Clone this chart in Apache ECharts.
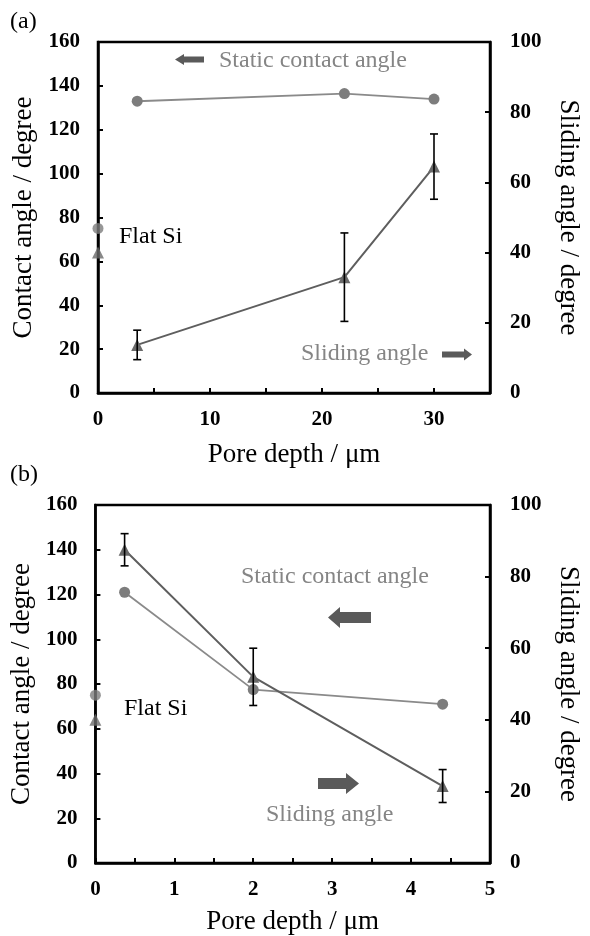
<!DOCTYPE html>
<html>
<head>
<meta charset="utf-8">
<script src="https://cdn.jsdelivr.net/npm/echarts@6/dist/echarts.min.js"></script>
<style>
  html, body { margin: 0; padding: 0; background: #fff; }
  #chart { width: 590px; height: 936px; }
</style>
</head>
<body>
<div id="chart"></div>
<script>
// Panel (a): deep pores, depth 0-35 µm
const depthA = [3.5, 22, 30];
const contactA = [133, 136.5, 134];
const slidingA = [13.7, 33, 64.5];
const slidingErrA = [4.2, 12.6, 9.3];

// Panel (b): shallow pores, depth 0-5 µm
const depthB = [0.37, 2.0, 4.4];
const contactB = [121, 77.5, 71];
const slidingB = [87.5, 52, 21.5];
const slidingErrB = [4.5, 8, 4.6];

// Flat Si reference (depth 0)
const flatDepth = 0;
const flatContact = 75;
const flatSliding = 40;

const xTicksA = [0, 10, 20, 30];
const xTicksB = [0, 1, 2, 3, 4, 5];

const SERIF = '"Liberation Serif", "Times New Roman", serif';
const CIRCLE_GRAY = '#7d7d7d';
const TRI_GRAY = '#6a6a6a';

const pairs = (xs, ys) => xs.map((x, i) => [x, ys[i]]);
const triples = (xs, ys, es) => xs.map((x, i) => [x, ys[i], es[i]]);

function errorBar(params, api) {
  const x = api.value(0), y = api.value(1), e = api.value(2);
  const top = api.coord([x, y + e]);
  const bot = api.coord([x, y - e]);
  const w = 4;
  const st = { stroke: '#000', lineWidth: 1.6 };
  return {
    type: 'group',
    children: [
      { type: 'line', shape: { x1: top[0], y1: top[1], x2: bot[0], y2: bot[1] }, style: st },
      { type: 'line', shape: { x1: top[0] - w, y1: top[1], x2: top[0] + w, y2: top[1] }, style: st },
      { type: 'line', shape: { x1: bot[0] - w, y1: bot[1], x2: bot[0] + w, y2: bot[1] }, style: st }
    ]
  };
}

const tickLabel = { fontFamily: SERIF, fontWeight: 'bold', fontSize: 21, color: '#000' };
const axisName = { fontFamily: SERIF, fontSize: 27, color: '#000' };
const axisLine = { show: true, lineStyle: { color: '#000', width: 2.5 } };
const axisTick = { show: true, inside: true, length: 5, lineStyle: { color: '#000', width: 2 } };

function xAxis(grid, max, interval, ticks, gap) {
  return {
    type: 'value', gridIndex: grid, min: 0, max: max, interval: interval,
    name: 'Pore depth / μm', nameLocation: 'middle', nameGap: gap, nameTextStyle: axisName,
    axisLine: axisLine, axisTick: axisTick, splitLine: { show: false },
    axisLabel: Object.assign({ margin: 16, formatter: v => (ticks.indexOf(v) >= 0 ? String(v) : '') }, tickLabel)
  };
}
function yLeft(grid) {
  return {
    type: 'value', gridIndex: grid, position: 'left', min: 0, max: 160, interval: 20,
    name: 'Contact angle / degree', nameLocation: 'middle', nameGap: 60, nameTextStyle: axisName,
    axisLine: axisLine, axisTick: axisTick, splitLine: { show: false },
    axisLabel: Object.assign({ margin: 18 }, tickLabel)
  };
}
function yRight(grid) {
  return {
    type: 'value', gridIndex: grid, position: 'right', min: 0, max: 100, interval: 20,
    name: 'Sliding angle / degree', nameLocation: 'middle', nameGap: 65, nameRotate: -90,
    nameTextStyle: axisName,
    axisLine: axisLine, axisTick: axisTick, splitLine: { show: false },
    axisLabel: Object.assign({ margin: 20 }, tickLabel)
  };
}

function panelSeries(k, depth, contact, sliding, err) {
  const xi = k, yl = 2 * k, yr = 2 * k + 1;
  return [
    {
      type: 'line', xAxisIndex: xi, yAxisIndex: yl, data: pairs(depth, contact),
      symbol: 'circle', symbolSize: 11, itemStyle: { color: CIRCLE_GRAY },
      lineStyle: { color: '#8a8a8a', width: 1.8 }, z: 3
    },
    {
      type: 'line', xAxisIndex: xi, yAxisIndex: yr, data: pairs(depth, sliding),
      symbol: 'triangle', symbolSize: 12, itemStyle: { color: TRI_GRAY },
      lineStyle: { color: '#5e5e5e', width: 2 }, z: 3
    },
    {
      type: 'custom', xAxisIndex: xi, yAxisIndex: yr, data: triples(depth, sliding, err),
      renderItem: errorBar, z: 4
    },
    {
      type: 'scatter', xAxisIndex: xi, yAxisIndex: yl, data: [[flatDepth, flatContact]],
      symbol: 'circle', symbolSize: 11, itemStyle: { color: CIRCLE_GRAY }, z: 5
    },
    {
      type: 'scatter', xAxisIndex: xi, yAxisIndex: yr, data: [[flatDepth, flatSliding]],
      symbol: 'triangle', symbolSize: 12, itemStyle: { color: TRI_GRAY }, z: 5
    }
  ];
}

function label(text, x, y, fill, size) {
  return {
    type: 'text', x: x, y: y, z: 10,
    style: { text: text, font: (size || 24) + 'px ' + SERIF, fill: fill, align: 'left', verticalAlign: 'middle' }
  };
}
// Horizontal block arrow: tail at x0, tip at x1 (either direction)
function arrow(x0, x1, yc, shaftH, headH, headL) {
  const dir = x1 > x0 ? 1 : -1;
  const hb = x1 - dir * headL;
  return {
    type: 'polygon', z: 10,
    shape: {
      points: [
        [x0, yc - shaftH / 2], [hb, yc - shaftH / 2], [hb, yc - headH / 2], [x1, yc],
        [hb, yc + headH / 2], [hb, yc + shaftH / 2], [x0, yc + shaftH / 2]
      ]
    },
    style: { fill: '#5a5a5a' }
  };
}

const option = {
  animation: false,
  backgroundColor: '#fff',
  grid: [
    { left: 98, right: 100, top: 42, height: 351, show: true, borderColor: '#000', borderWidth: 2.5 },
    { left: 93, right: 98, top: 505, height: 358, show: true, borderColor: '#000', borderWidth: 2.5 }
  ],
  xAxis: [xAxis(0, 35, 5, xTicksA, 48), xAxis(1, 5, 0.5, xTicksB, 45)],
  yAxis: [yLeft(0), yRight(0), yLeft(1), yRight(1)],
  series: [].concat(
    panelSeries(0, depthA, contactA, slidingA, slidingErrA),
    panelSeries(1, depthB, contactB, slidingB, slidingErrB)
  ),
  graphic: [
    label('(a)', 10, 22, '#000'),
    label('Static contact angle', 219, 61, '#858585'),
    arrow(204, 175, 59.5, 6, 11, 9),
    label('Flat Si', 119, 237, '#000'),
    label('Sliding angle', 301, 354, '#858585'),
    arrow(442, 472, 354.5, 6, 12, 8),

    label('(b)', 10, 475, '#000'),
    label('Static contact angle', 241, 577, '#858585'),
    arrow(371, 328, 617.5, 11, 21, 12),
    label('Flat Si', 124, 709, '#000'),
    arrow(318, 359, 783.5, 11, 21, 13),
    label('Sliding angle', 266, 815, '#858585')
  ]
};

const chart = echarts.init(document.getElementById('chart'), null, { renderer: 'canvas' });
chart.setOption(option);
</script>
</body>
</html>
